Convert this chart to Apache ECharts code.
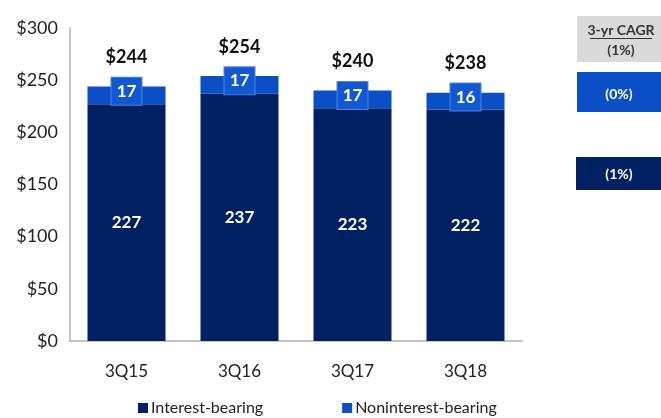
<!DOCTYPE html>
<html>
<head>
<meta charset="utf-8">
<script src="https://cdn.jsdelivr.net/npm/echarts@6/dist/echarts.min.js"></script>
<style>
  html, body { margin: 0; padding: 0; background: #fff; }
  #chart { width: 661px; height: 418px; }
</style>
</head>
<body>
<div id="chart"></div>
<script>
// Quarter-end deposits, $B
const categories = ['3Q15', '3Q16', '3Q17', '3Q18'];
const interestBearing = [227, 237, 223, 222];
const noninterestBearing = [17, 17, 17, 16];
const totals = [244, 254, 240, 238];
const yTicks = [0, 50, 100, 150, 200, 250, 300];
const cagrHeader = '3-yr CAGR';
const cagrTotal = '(1%)';
const cagrNoninterest = '(0%)';
const cagrInterest = '(1%)';

const FONT = 'Lato, "Open Sans", sans-serif';
const NAVY = '#022163';
const BLUE = '#0a4fc6';

const chart = echarts.init(document.getElementById('chart'));

chart.setOption({
  animation: false,
  textStyle: { fontFamily: FONT },
  grid: { left: 70, right: 139, top: 28, bottom: 77 },
  legend: {
    data: ['Interest-bearing', 'Noninterest-bearing'],
    bottom: -3,
    left: 133,
    itemGap: 79,
    itemWidth: 10,
    itemHeight: 10,
    icon: 'rect',
    textStyle: { fontSize: 16, color: '#222', fontFamily: FONT, padding: [0, 0, 0, -2] }
  },
  xAxis: {
    type: 'category',
    data: categories,
    axisLine: { lineStyle: { color: '#b0b0b0', width: 1.5 } },
    axisTick: { show: false },
    axisLabel: { fontSize: 17, color: '#222', margin: 22 }
  },
  yAxis: {
    type: 'value',
    min: yTicks[0],
    max: yTicks[yTicks.length - 1],
    interval: yTicks[1] - yTicks[0],
    splitLine: { show: false },
    axisLine: { show: true, lineStyle: { color: '#b0b0b0', width: 1.5 } },
    axisTick: { show: false },
    axisLabel: { fontSize: 18, color: '#222', margin: 12, formatter: v => '$' + v }
  },
  series: [
    {
      name: 'Interest-bearing',
      type: 'bar',
      stack: 'dep',
      barWidth: 78,
      data: interestBearing,
      itemStyle: { color: NAVY },
      label: {
        show: true,
        position: 'inside',
        color: '#fff',
        fontWeight: 'bold',
        fontSize: 17
      }
    },
    {
      name: 'Noninterest-bearing',
      type: 'bar',
      stack: 'dep',
      barWidth: 78,
      data: noninterestBearing,
      itemStyle: { color: BLUE },
      label: {
        show: true,
        position: 'inside',
        offset: [0, -4],
        color: '#fff',
        fontWeight: 'bold',
        fontSize: 17,
        backgroundColor: '#1258d0',
        borderColor: '#4f86dc',
        borderWidth: 1,
        width: 30,
        height: 27,
        lineHeight: 27,
        align: 'center'
      }
    },
    {
      // zero-height cap on each stack, carrying the total label
      name: 'Total',
      type: 'bar',
      stack: 'dep',
      barWidth: 78,
      data: totals.map(() => 0),
      itemStyle: { color: 'rgba(0,0,0,0)' },
      label: {
        show: true,
        position: 'top',
        distance: 20,
        color: '#111',
        fontWeight: 'bold',
        fontSize: 18,
        formatter: p => '$' + totals[p.dataIndex]
      }
    }
  ],
  graphic: [
    { type: 'rect', shape: { x: 577, y: 16, width: 84, height: 46 }, style: { fill: '#d9d9d9' } },
    {
      type: 'text', x: 621, y: 30,
      style: { text: cagrHeader, fill: '#333', font: 'bold 14px ' + FONT, align: 'center', verticalAlign: 'middle' }
    },
    { type: 'line', shape: { x1: 590, y1: 38.5, x2: 652, y2: 38.5 }, style: { stroke: '#333', lineWidth: 1 } },
    {
      type: 'text', x: 621, y: 50,
      style: { text: cagrTotal, fill: '#333', font: 'bold 14px ' + FONT, align: 'center', verticalAlign: 'middle' }
    },
    { type: 'rect', shape: { x: 577, y: 72, width: 84, height: 40 }, style: { fill: BLUE } },
    {
      type: 'text', x: 619, y: 94,
      style: { text: cagrNoninterest, fill: '#fff', font: 'bold 14px ' + FONT, align: 'center', verticalAlign: 'middle' }
    },
    { type: 'rect', shape: { x: 576, y: 157, width: 85, height: 33 }, style: { fill: NAVY } },
    {
      type: 'text', x: 619, y: 174,
      style: { text: cagrInterest, fill: '#fff', font: 'bold 14px ' + FONT, align: 'center', verticalAlign: 'middle' }
    }
  ]
});
</script>
</body>
</html>
